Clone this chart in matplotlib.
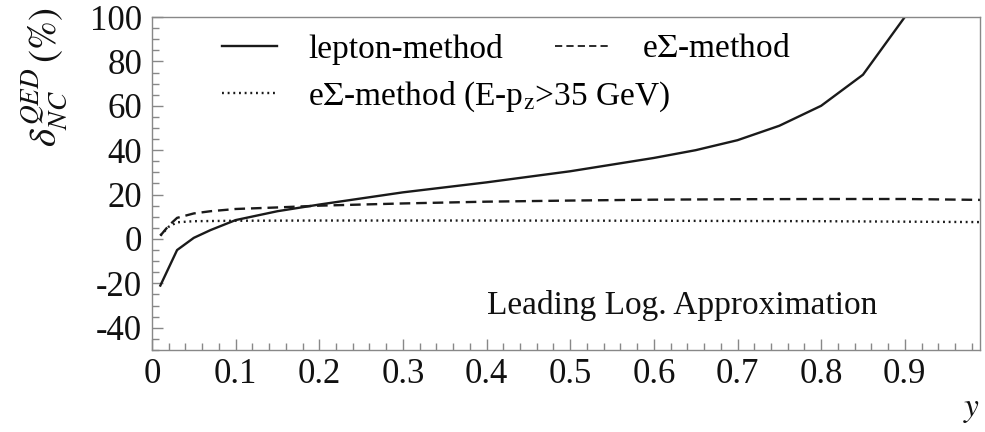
import matplotlib
matplotlib.use("Agg")
import matplotlib.pyplot as plt
from matplotlib.lines import Line2D
from matplotlib.ticker import MultipleLocator

plt.rcParams['font.family'] = ['Liberation Serif', 'DejaVu Serif']
plt.rcParams['mathtext.fontset'] = 'stix'
plt.rcParams['axes.unicode_minus'] = False

# lepton-method
lep_y = [0.01, 0.03, 0.05, 0.07, 0.10, 0.15, 0.20, 0.30, 0.40, 0.50, 0.60, 0.65, 0.70, 0.75, 0.80, 0.85, 0.90, 0.92]
lep_d = [-21, -5, 0.5, 4, 8.5, 12.5, 15.5, 21, 25.5, 30.5, 36.5, 40, 44.5, 51, 60, 74, 100, 108]

# eSigma-method
es_y = [0.01, 0.02, 0.03, 0.05, 0.07, 0.10, 0.15, 0.20, 0.30, 0.40, 0.50, 0.60, 0.70, 0.80, 0.90, 0.99]
es_d = [1.5, 6, 9.5, 11.5, 12.5, 13.5, 14.2, 15, 16, 16.8, 17.3, 17.7, 17.9, 18, 18, 17.6]

# eSigma-method (E-pz > 35 GeV)
ec_y = [0.01, 0.02, 0.03, 0.05, 0.10, 0.20, 0.40, 0.60, 0.80, 0.99]
ec_d = [1.5, 5.5, 7.5, 8, 8.2, 8.3, 8.3, 8.2, 8.0, 7.6]

fig = plt.figure(figsize=(9.85, 4.32), dpi=100)
ax = fig.add_axes([0.1543, 0.19, 0.8407, 0.7706])

col = '#1a1a1a'
l1, = ax.plot(lep_y, lep_d, '-', color=col, lw=1.7)
l2, = ax.plot(es_y, es_d, '--', color=col, lw=1.7, dashes=(4.5, 2.5))
l3, = ax.plot(ec_y, ec_d, ':', color=col, lw=1.7, dashes=(0.8, 1.6))

ax.set_xlim(0, 0.99)
ax.set_ylim(-50, 100)
ax.xaxis.set_minor_locator(MultipleLocator(0.02))
ax.yaxis.set_major_locator(MultipleLocator(20))
ax.yaxis.set_minor_locator(MultipleLocator(5))
ax.set_xticks([0, 0.1, 0.2, 0.3, 0.4, 0.5, 0.6, 0.7, 0.8, 0.9])
ax.set_xticklabels(['0', '0.1', '0.2', '0.3', '0.4', '0.5', '0.6', '0.7', '0.8', '0.9'])

ax.tick_params(which='both', direction='in', color='#888888', labelsize=25, labelcolor='#111111')
ax.tick_params(which='major', length=8, width=1)
ax.tick_params(which='minor', length=5, width=1)
ax.tick_params(axis='x', pad=6)
ax.tick_params(axis='y', pad=7)
for s in ax.spines.values():
    s.set_color('#888888')
    s.set_linewidth(1)

ax.set_ylabel(r'$\delta^{QED}_{NC}\,(\%)$', fontsize=28, color='#111111')
ax.yaxis.set_label_coords(-0.10, 0.82)
ax.set_xlabel(r'$y$', fontsize=24, color='#111111', loc='right')
ax.xaxis.set_label_coords(1.0, -0.135)

leg1 = ax.legend([l1, l3], ['lepton-method', r'e$\Sigma$-method (E-p$_{\rm z}$>35 GeV)'],
                 loc='upper left', bbox_to_anchor=(0.0845, 0.949), frameon=False, fontsize=24,
                 handlelength=1.65, handletextpad=0.93, labelspacing=0.44,
                 borderpad=0, borderaxespad=0)
ax.add_artist(leg1)
ax.legend([Line2D([], [], ls='--', color=col, lw=1.3, dashes=(4, 2.3))], [r'e$\Sigma$-method'],
          loc='upper left', bbox_to_anchor=(0.487, 0.949), frameon=False, fontsize=24,
          handlelength=1.65, handletextpad=0.96, borderpad=0, borderaxespad=0)

ax.text(0.876, 0.108, 'Leading Log. Approximation', transform=ax.transAxes,
        ha='right', va='baseline', fontsize=24, color='#111111')

fig.savefig('out.png', dpi=100)
